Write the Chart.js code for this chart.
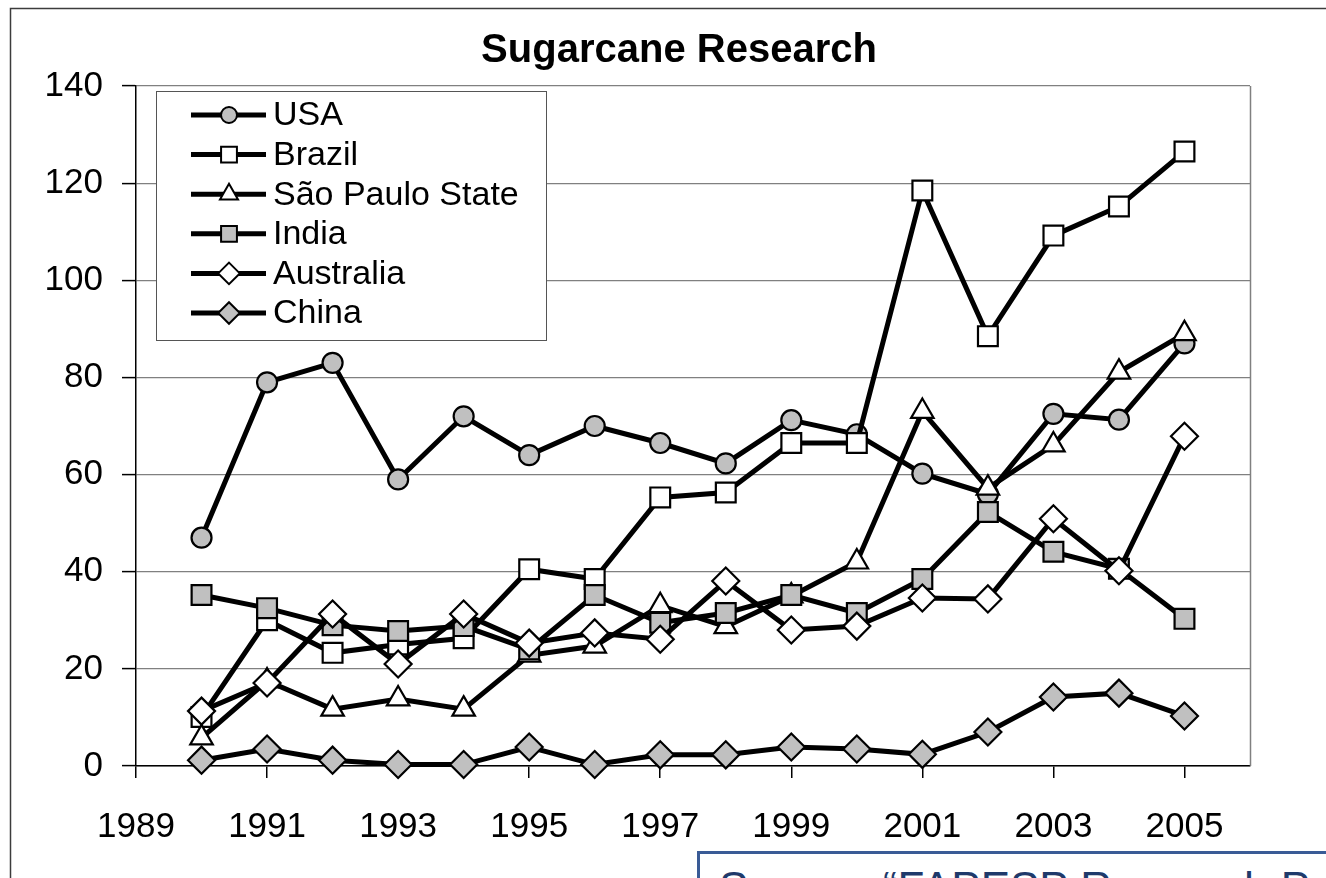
<!DOCTYPE html>
<html>
<head>
<meta charset="utf-8">
<script src="https://cdn.jsdelivr.net/npm/chart.js@4"></script>
<style>
  html, body { margin: 0; padding: 0; background: #fff; overflow: hidden; }
  #wrap { position: relative; width: 1326px; height: 878px; }
  #c { position: absolute; left: 0; top: 0; }
  #source {
    position: absolute; left: 697px; top: 851px; width: 700px; height: 80px;
    border: 3px solid #3a5b96; background: #fff; box-sizing: border-box; overflow: hidden;
  }
  #source span {
    position: absolute; left: 19px; top: 12px; white-space: nowrap;
    font-family: "Liberation Sans", Arial, sans-serif; font-size: 44px; line-height: 44px;
    color: #1f3a6b;
  }
</style>
</head>
<body>
<div id="wrap">
  <canvas id="c" width="1326" height="878"></canvas>
  <div id="source"><span>Source: “FAPESP Research Program</span></div>
</div>
<script>
const years = [1990, 1991, 1992, 1993, 1994, 1995, 1996, 1997, 1998, 1999, 2000, 2001, 2002, 2003, 2004, 2005];
const seriesNames = ['USA', 'Brazil', 'São Paulo State', 'India', 'Australia', 'China'];
const usa       = [47, 79, 83, 59, 72, 64, 70, 66.5, 62.3, 71.2, 68.3, 60.2, 56, 72.5, 71.3, 87];
const brazil    = [10.1, 30, 23.3, 25, 26.3, 40.5, 38.5, 55.3, 56.3, 66.5, 66.5, 118.5, 88.5, 109.2, 115.2, 126.5];
const saoPaulo  = [5.8, 17.5, 11.7, 13.8, 11.7, 22.8, 24.7, 33, 28.7, 35, 42, 73, 57.2, 66.1, 81.1, 89];
const india     = [35.2, 32.5, 29, 27.8, 28.8, 24, 35.2, 29.5, 31.5, 35.2, 31.5, 38.5, 52.3, 44.1, 40.6, 30.3];
const australia = [11.3, 17.1, 31.3, 21, 31.3, 25.3, 27.4, 26.1, 38.1, 28, 28.8, 34.6, 34.4, 50.9, 40.2, 67.9];
const china     = [1.2, 3.5, 1.2, 0.3, 0.3, 3.9, 0.3, 2.3, 2.3, 3.9, 3.5, 2.4, 7, 14.2, 15, 10.3];
const xTickValues = [1989, 1991, 1993, 1995, 1997, 1999, 2001, 2003, 2005];
const yTickValues = [0, 20, 40, 60, 80, 100, 120, 140];

const FONT = "'Liberation Sans', Arial, sans-serif";
const GRAY = '#c0c0c0';

const styles = [
  { pointStyle: 'circle',   radius: 10, fill: GRAY },
  { pointStyle: 'rect',     radius: 14, fill: '#ffffff' },
  { pointStyle: 'triangle', radius: 13, fill: '#ffffff' },
  { pointStyle: 'rect',     radius: 14, fill: GRAY },
  { pointStyle: 'rectRot',  radius: 13.5, fill: '#ffffff' },
  { pointStyle: 'rectRot',  radius: 13.5, fill: GRAY }
];
const values = [usa, brazil, saoPaulo, india, australia, china];

const datasets = values.map((vals, i) => ({
  label: seriesNames[i],
  data: years.map((yr, k) => ({ x: yr, y: vals[k] })),
  borderColor: '#000',
  borderWidth: 5,
  pointStyle: styles[i].pointStyle,
  pointRadius: styles[i].radius,
  pointHoverRadius: styles[i].radius,
  pointBackgroundColor: styles[i].fill,
  pointBorderColor: '#000',
  pointBorderWidth: 2.2,
  tension: 0,
  fill: false,
  clip: false,
  order: 10 - i
}));

function drawMarker(ctx, style, x, y) {
  const r = style.radius;
  ctx.save();
  ctx.fillStyle = style.fill;
  ctx.strokeStyle = '#000';
  ctx.lineWidth = 2;
  ctx.beginPath();
  if (style.pointStyle === 'circle') {
    ctx.arc(x, y, r, 0, Math.PI * 2);
  } else if (style.pointStyle === 'rect') {
    const s = r * Math.SQRT1_2;
    ctx.rect(x - s, y - s, 2 * s, 2 * s);
  } else if (style.pointStyle === 'triangle') {
    ctx.moveTo(x, y - r);
    ctx.lineTo(x + r * Math.sin(2 * Math.PI / 3), y - r * Math.cos(2 * Math.PI / 3));
    ctx.lineTo(x + r * Math.sin(4 * Math.PI / 3), y - r * Math.cos(4 * Math.PI / 3));
    ctx.closePath();
  } else {
    ctx.moveTo(x, y - r); ctx.lineTo(x + r, y); ctx.lineTo(x, y + r); ctx.lineTo(x - r, y);
    ctx.closePath();
  }
  ctx.fill();
  ctx.stroke();
  ctx.restore();
}

const framePlugin = {
  id: 'frame',
  beforeDraw(chart) {
    const ctx = chart.ctx;
    ctx.save();
    ctx.fillStyle = '#fff';
    ctx.fillRect(0, 0, chart.width, chart.height);
    ctx.strokeStyle = '#3c3c3c';
    ctx.lineWidth = 1.5;
    ctx.beginPath();
    ctx.moveTo(10.5, chart.height);
    ctx.lineTo(10.5, 8.5);
    ctx.lineTo(chart.width, 8.5);
    ctx.stroke();
    ctx.restore();
  },
  beforeDatasetsDraw(chart) {
    const ctx = chart.ctx;
    const a = chart.chartArea;
    ctx.save();
    ctx.strokeStyle = '#808080';
    ctx.lineWidth = 1.5;
    ctx.beginPath();
    ctx.moveTo(Math.round(a.right) + 0.5, a.top);
    ctx.lineTo(Math.round(a.right) + 0.5, a.bottom);
    ctx.stroke();
    ctx.restore();
  },
  afterDraw(chart) {
    const ctx = chart.ctx;
    ctx.save();
    const bx = 156, by = 91, bw = 390, bh = 249;
    ctx.fillStyle = '#fff';
    ctx.fillRect(bx, by, bw, bh);
    ctx.strokeStyle = '#555';
    ctx.lineWidth = 1;
    ctx.strokeRect(bx + 0.5, by + 0.5, bw, bh);
    ctx.font = '34px ' + FONT;
    ctx.textBaseline = 'middle';
    ctx.textAlign = 'left';
    seriesNames.forEach((name, i) => {
      const y = 115 + i * 39.6;
      ctx.strokeStyle = '#000';
      ctx.lineWidth = 5;
      ctx.beginPath();
      ctx.moveTo(191, y);
      ctx.lineTo(266, y);
      ctx.stroke();
      const st = Object.assign({}, styles[i], { radius: styles[i].radius * 0.8 });
      drawMarker(ctx, st, 229, y);
      ctx.fillStyle = '#000';
      ctx.fillText(name, 273, y + 1);
    });
    ctx.restore();
  }
};

new Chart(document.getElementById('c'), {
  type: 'line',
  data: { datasets },
  options: {
    responsive: false,
    animation: false,
    devicePixelRatio: 1,
    layout: { padding: { left: 32, right: 0, top: 0, bottom: 0 } },
    plugins: {
      legend: { display: false },
      tooltip: { enabled: false },
      title: {
        display: true,
        text: 'Sugarcane Research',
        color: '#000',
        font: { family: FONT, size: 40, weight: 'bold', lineHeight: 1.2 },
        padding: { top: 27, bottom: 11 }
      }
    },
    scales: {
      x: {
        type: 'linear',
        min: 1989,
        max: 2006,
        afterBuildTicks: s => { s.ticks = xTickValues.map(v => ({ value: v })); },
        afterFit: s => { s.height = 112; },
        ticks: {
          autoSkip: false,
          maxRotation: 0,
          padding: 28,
          color: '#000',
          font: { family: FONT, size: 35 },
          callback: v => String(v)
        },
        grid: { drawOnChartArea: false, drawTicks: true, tickLength: 12, tickColor: '#000', lineWidth: 1.5 },
        border: { color: '#000', width: 1.5 }
      },
      y: {
        type: 'linear',
        min: 0,
        max: 140,
        afterBuildTicks: s => { s.ticks = yTickValues.map(v => ({ value: v })); },
        afterFit: s => { s.width = 104; },
        ticks: {
          padding: 19,
          color: '#000',
          font: { family: FONT, size: 35 },
          callback: v => String(v)
        },
        grid: { color: '#808080', lineWidth: 1.2, drawTicks: true, tickLength: 14, tickColor: '#000', tickWidth: 1.5 },
        border: { color: '#000', width: 1.5 }
      },
      spacer: {
        type: 'linear',
        position: 'right',
        display: true,
        min: 0,
        max: 140,
        afterFit: s => { s.width = 76; },
        ticks: { display: false },
        grid: { display: false, drawTicks: false },
        border: { display: false }
      }
    }
  },
  plugins: [framePlugin]
});
</script>
</body>
</html>
